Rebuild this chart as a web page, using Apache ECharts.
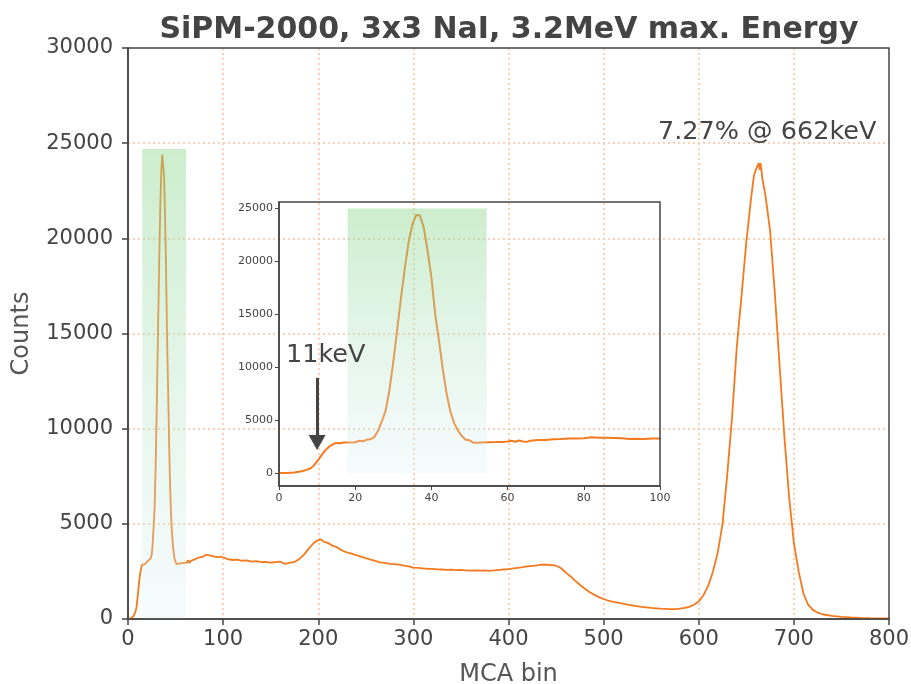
<!DOCTYPE html>
<html>
<head>
<meta charset="utf-8">
<script src="https://cdn.jsdelivr.net/npm/echarts@6/dist/echarts.min.js"></script>
<style>html,body{margin:0;padding:0;background:#fff;}#c{width:911px;height:684px;}</style>
</head>
<body>
<div id="c"></div>
<script>
// MCA bins and counts
var bins = [0,2,4,6,8,9,10,11,12,13,14,15,16,17,18,20,21,22,23,24,25,26,27,28,29,30,31,32,33,34,35,36,37,38,39,40,41,42,43,44,45,46,47,48,49,50,51,52,53,55,57,59,60,61,62,63,64,65,66,68,70,72,74,76,78,80,82,84,86,88,90,92,94,96,98,100,
105,110,115,120,125,130,135,140,145,150,155,160,165,170,175,180,185,190,195,198,200,203,206,210,215,220,225,230,235,240,245,250,255,260,265,270,275,280,285,290,295,300,305,310,315,320,325,330,335,340,345,350,355,360,365,370,375,380,385,390,395,400,405,410,415,420,425,430,435,440,445,450,455,460,465,470,475,480,485,490,495,500,505,510,515,520,525,530,535,540,545,550,555,560,565,570,575,580,585,590,595,600,605,610,615,620,625,630,635,640,645,650,655,658,660,662,663,664,665,667,670,675,680,685,690,695,700,705,710,715,720,725,730,740,750,760,770,780,790,800];
var counts = [0,20,60,180,400,650,1100,1600,2100,2450,2700,2850,2820,2900,2880,2920,3050,3000,3150,3200,3400,4000,4900,5900,7900,10500,13500,16500,19300,21800,23500,24400,24350,23200,21000,18500,15000,12500,9800,7500,5800,4700,4000,3500,3150,3100,2880,2870,2900,2920,2930,2950,2980,3050,2960,3080,2980,2950,3060,3120,3130,3200,3220,3280,3260,3290,3380,3330,3340,3320,3290,3220,3250,3230,3270,3260,
3150,3100,3120,3060,3080,3010,3040,2990,3000,2960,2990,3010,2900,2950,3000,3150,3380,3700,3980,4100,4150,4180,4050,4000,3850,3760,3600,3500,3430,3350,3280,3200,3120,3050,2980,2950,2900,2880,2860,2800,2760,2700,2690,2660,2640,2630,2610,2600,2580,2590,2570,2580,2560,2540,2550,2540,2560,2530,2560,2580,2600,2620,2660,2690,2720,2760,2790,2820,2860,2850,2830,2800,2680,2450,2250,2020,1800,1600,1420,1280,1150,1050,960,900,860,810,760,720,680,640,610,580,560,540,530,520,520,540,580,640,750,920,1250,1750,2500,3500,5000,7600,10600,14300,17000,19800,22100,23300,23600,23700,23950,23600,23950,23100,22300,20400,17100,13300,9600,6400,4000,2500,1350,750,480,330,250,160,110,80,60,45,35,30];

var mainXTicks = [0,100,200,300,400,500,600,700,800];
var mainYTicks = [0,5000,10000,15000,20000,25000,30000];
var insetXTicks = [0,20,40,60,80,100];
var insetYTicks = [0,5000,10000,15000,20000,25000];
var insetYRange = [-1220, 25620];

// highlighted regions: [xStart, xEnd, yTop]
var bandMain = [15, 61, 24700];
var bandInset = [18, 54.5, 25000];
// arrow for the 11keV marker: [bin, from count, to count]
var arrow11 = [10, 9000, 2900];

var title = 'SiPM-2000, 3x3 NaI, 3.2MeV max. Energy';
var peakNote = '7.27% @ 662keV';
var lowNote = '11keV';

var data = bins.map(function (b, i) { return [b, counts[i]]; });

var orange = '#f5791f';
var txt = '#444';
var gridDot = '#f8c4a0';
var plain = function (v) { return String(v); };

function bandGrad() {
  return new echarts.graphic.LinearGradient(0, 0, 0, 1, [
    { offset: 0, color: 'rgba(143,216,143,0.45)' },
    { offset: 1, color: 'rgba(215,240,245,0.25)' }
  ]);
}

var chart = echarts.init(document.getElementById('c'), null, { renderer: 'canvas' });
chart.setOption({
  backgroundColor: '#fff',
  animation: false,
  grid: [
    { left: 128, right: 22, top: 48, bottom: 65, outerBoundsMode: 'none', containLabel: false, show: true, borderColor: '#444', borderWidth: 1.5, backgroundColor: 'transparent', z: 10 },
    { left: 279, top: 202, width: 381, height: 284, outerBoundsMode: 'none', containLabel: false, show: true, borderColor: '#444', borderWidth: 1.5, backgroundColor: 'transparent', z: 10 }
  ],
  xAxis: [
    {
      gridIndex: 0, type: 'value', min: mainXTicks[0], max: mainXTicks[mainXTicks.length - 1], interval: 100,
      name: 'MCA bin', nameLocation: 'middle', nameGap: 44,
      nameTextStyle: { fontFamily: 'DejaVu Sans', fontSize: 24, color: '#555' },
      axisLine: { show: true, onZero: false, lineStyle: { color: '#444', width: 1.5 } },
      axisTick: { show: true, length: 6, lineStyle: { color: '#444', width: 1.5 } },
      axisLabel: { fontFamily: 'DejaVu Sans', fontSize: 21, color: txt, margin: 10, formatter: plain },
      splitLine: { show: true, showMinLine: false, showMaxLine: false, lineStyle: { color: gridDot, type: [2, 3], width: 1.5 } }
    },
    {
      gridIndex: 1, type: 'value', min: insetXTicks[0], max: insetXTicks[insetXTicks.length - 1], interval: 20,
      axisLine: { show: true, onZero: false, lineStyle: { color: '#444', width: 1.5 } },
      axisTick: { show: true, length: 4, lineStyle: { color: '#444', width: 1 } },
      axisLabel: { fontFamily: 'DejaVu Sans', fontSize: 11, color: txt, margin: 7, formatter: plain },
      splitLine: { show: false }
    }
  ],
  yAxis: [
    {
      gridIndex: 0, type: 'value', min: mainYTicks[0], max: mainYTicks[mainYTicks.length - 1], interval: 5000,
      name: 'Counts', nameLocation: 'middle', nameGap: 94,
      nameTextStyle: { fontFamily: 'DejaVu Sans', fontSize: 24, color: '#555' },
      axisLine: { show: true, onZero: false, lineStyle: { color: '#444', width: 1.5 } },
      axisTick: { show: true, length: 6, lineStyle: { color: '#444', width: 1.5 } },
      axisLabel: { fontFamily: 'DejaVu Sans', fontSize: 21, color: txt, margin: 15, formatter: plain },
      splitLine: { show: true, showMinLine: false, showMaxLine: false, lineStyle: { color: gridDot, type: [2, 3], width: 1.5 } }
    },
    {
      gridIndex: 1, type: 'value', min: insetYRange[0], max: insetYRange[1],
      axisLine: { show: true, onZero: false, lineStyle: { color: '#444', width: 1.5 } },
      axisTick: { show: true, length: 4, customValues: insetYTicks, lineStyle: { color: '#444', width: 1 } },
      axisLabel: { fontFamily: 'DejaVu Sans', fontSize: 11, color: txt, margin: 6, customValues: insetYTicks, formatter: plain },
      splitLine: { show: false }
    }
  ],
  graphic: [
    { type: 'text', x: 509, y: 15, z: 100,
      style: { text: title, font: 'bold 30px "DejaVu Sans"', fill: txt, textAlign: 'center' } },
    { type: 'text', x: 658, y: 119, z: 100,
      style: { text: peakNote, font: '25.5px "DejaVu Sans"', fill: txt } },
    { type: 'text', x: 286, y: 342, z: 100,
      style: { text: lowNote, font: '25.5px "DejaVu Sans"', fill: txt } }
  ],
  series: [
    {
      type: 'line', xAxisIndex: 0, yAxisIndex: 0, data: data, showSymbol: false, symbol: 'none',
      lineStyle: { color: orange, width: 1.8 }, z: 2,
      markArea: {
        silent: true, z: 5,
        itemStyle: { color: bandGrad() },
        data: [[{ coord: [bandMain[0], bandMain[2]] }, { coord: [bandMain[1], 0] }]]
      }
    },
    {
      type: 'line', xAxisIndex: 1, yAxisIndex: 1, data: data, showSymbol: false, symbol: 'none',
      lineStyle: { color: orange, width: 2 }, z: 3, clip: true,
      markArea: {
        silent: true, z: 5,
        itemStyle: { color: bandGrad() },
        data: [[{ coord: [bandInset[0], bandInset[2]] }, { coord: [bandInset[1], 0] }]]
      },
      markLine: {
        silent: true, symbol: ['none', 'triangle'], symbolSize: [17, 15],
        label: { show: false },
        lineStyle: { color: '#444', width: 3, type: 'solid' },
        data: [[{ coord: [arrow11[0], arrow11[1]] }, { coord: [arrow11[0], arrow11[2]] }]]
      }
    }
  ]
});
</script>
</body>
</html>
